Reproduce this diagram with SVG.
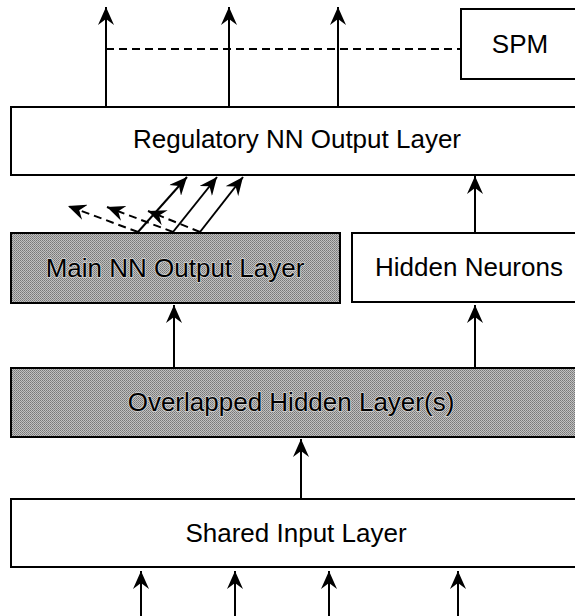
<svg xmlns="http://www.w3.org/2000/svg" width="575" height="616" viewBox="0 0 575 616">
  <defs>
    <pattern id="dither" width="2" height="2" patternUnits="userSpaceOnUse">
      <rect width="2" height="2" fill="#c0c0c0"/>
      <rect width="1" height="1" fill="#777"/>
      <rect x="1" y="1" width="1" height="1" fill="#888"/>
    </pattern>
    <marker id="ah" viewBox="0 0 18 16" refX="18" refY="8" markerWidth="18" markerHeight="16" markerUnits="userSpaceOnUse" orient="auto">
      <path d="M0,0 L18,8 L0,16 L6,8 Z" fill="#000"/>
    </marker>
  </defs>
  <style>
    .box { fill: #fff; stroke: #000; stroke-width: 2; }
    .shade { fill: url(#dither); stroke: #000; stroke-width: 2; }
    .lbl { font-family: "Liberation Sans", Arial, sans-serif; font-size: 26px; fill: #000; text-anchor: middle; }
    .lblS { font-family: "Liberation Sans", Arial, sans-serif; font-size: 26px; fill: #000; text-anchor: middle; stroke: #d4d4d4; stroke-width: 1.5; paint-order: stroke; }
    .arr { stroke: #000; stroke-width: 2; fill: none; marker-end: url(#ah); }
    .dash { stroke: #000; stroke-width: 2; fill: none; stroke-dasharray: 8 5; }
  </style>

  <g id="spm">
    <rect class="box" x="461" y="9" width="130" height="70"/>
    <text class="lbl" x="520" y="53">SPM</text>
  </g>

  <g id="regulatory-output">
    <rect class="box" x="11" y="107" width="580" height="68"/>
    <text class="lbl" x="297" y="148">Regulatory NN Output Layer</text>
  </g>

  <g id="main-output">
    <rect class="shade" x="11" y="233" width="329" height="70"/>
    <text class="lblS" x="175" y="277">Main NN Output Layer</text>
  </g>

  <g id="hidden-neurons">
    <rect class="box" x="352" y="233" width="240" height="69"/>
    <text class="lbl" x="469" y="276">Hidden Neurons</text>
  </g>

  <g id="overlapped-hidden">
    <rect class="shade" x="11" y="368" width="580" height="69"/>
    <text class="lblS" x="291" y="411">Overlapped Hidden Layer(s)</text>
  </g>

  <g id="shared-input">
    <rect class="box" x="11" y="499" width="580" height="68"/>
    <text class="lbl" x="296" y="542">Shared Input Layer</text>
  </g>

  <g id="connectors">
    <line class="arr" x1="106" y1="107" x2="106" y2="7"/>
    <line class="arr" x1="229" y1="107" x2="229" y2="7"/>
    <line class="arr" x1="338" y1="107" x2="338" y2="7"/>
    <line class="dash" x1="106" y1="49" x2="461" y2="49"/>
    <line class="arr" x1="138" y1="232" x2="187" y2="177"/>
    <line class="arr" x1="173" y1="232" x2="217" y2="177"/>
    <line class="arr" x1="200" y1="232" x2="243" y2="177"/>
    <line class="dash" x1="138" y1="232" x2="68" y2="206" marker-end="url(#ah)"/>
    <line class="dash" x1="173" y1="232" x2="107" y2="207" marker-end="url(#ah)"/>
    <line class="dash" x1="200" y1="232" x2="148" y2="211" marker-end="url(#ah)"/>
    <line class="arr" x1="475" y1="233" x2="475" y2="176"/>
    <line class="arr" x1="174" y1="368" x2="174" y2="305"/>
    <line class="arr" x1="475" y1="368" x2="475" y2="305"/>
    <line class="arr" x1="301" y1="499" x2="301" y2="439"/>
    <line class="arr" x1="141" y1="616" x2="141" y2="571"/>
    <line class="arr" x1="235" y1="616" x2="235" y2="571"/>
    <line class="arr" x1="329" y1="616" x2="329" y2="571"/>
    <line class="arr" x1="458" y1="616" x2="458" y2="571"/>
  </g>
</svg>
